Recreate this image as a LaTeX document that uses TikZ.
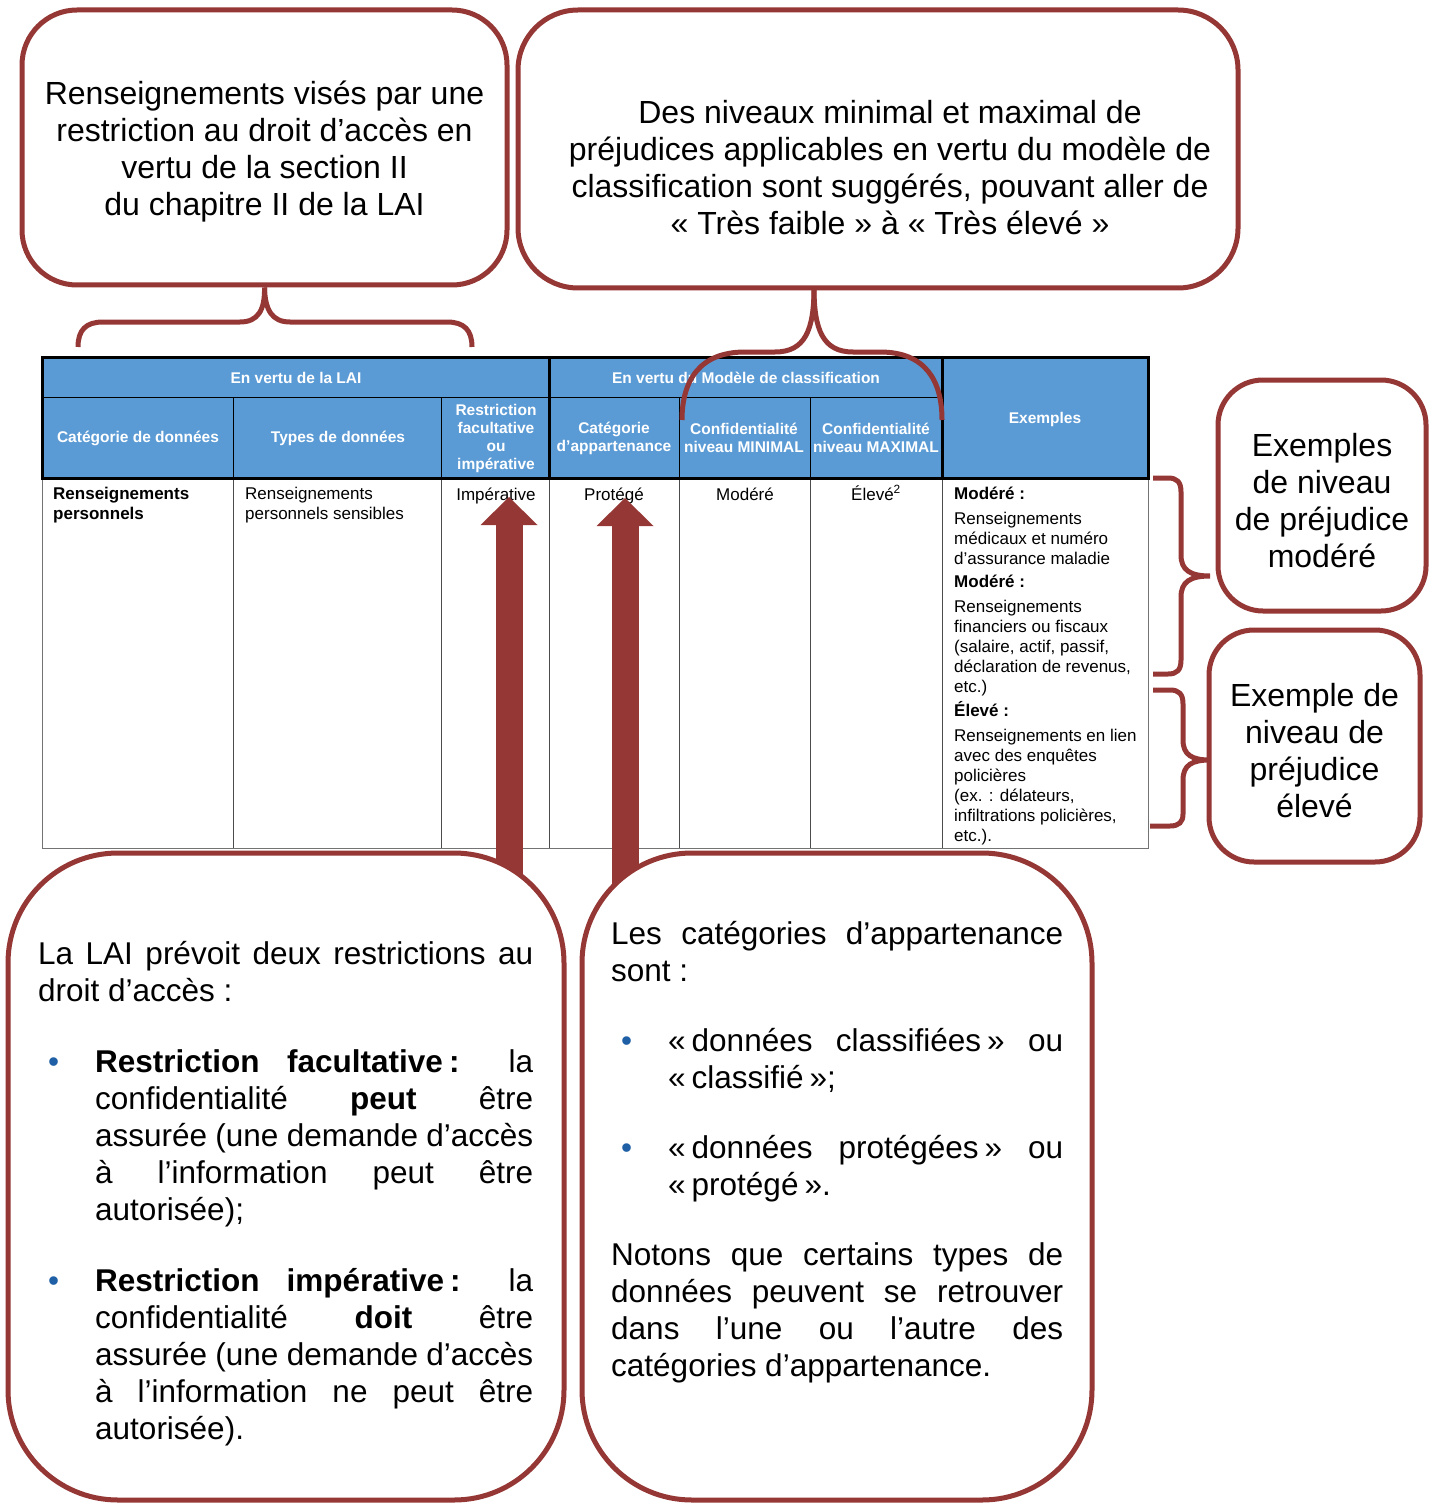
\documentclass[tikz,border=0pt]{standalone}
\usepackage{fontspec}
\setmainfont{Liberation Sans}
\usetikzlibrary{arrows.meta}

\definecolor{boxred}{RGB}{149,55,53}
\definecolor{hdrblue}{RGB}{91,155,213}
\definecolor{bulletblue}{RGB}{31,95,165}

\tikzset{
  callout/.style={draw=boxred, line width=5pt, fill=white, rounded corners=#1, inner sep=0pt},
  big/.style={font=\fontsize{32}{37}\selectfont, align=center},
  para/.style={font=\fontsize{31.5}{37}\selectfont, align=justify, inner sep=0pt, anchor=north west},
  hdr/.style={font=\fontsize{15.5}{18}\selectfont\bfseries, text=white, align=center, inner sep=0pt},
  cell/.style={font=\fontsize{17}{20}\selectfont, align=left, inner sep=0pt},
  brace/.style={draw=boxred, line width=5pt},
  bigarrow/.style={draw=boxred, line width=27pt, -{Triangle[width=57pt,length=28pt,line width=0pt]}},
}

\newcommand{\puce}{\noindent\llap{\textcolor{bulletblue}{\textbullet}\hspace{36pt}}}
\newcommand{\og}{«\kern6pt}
\newcommand{\fg}{\kern6pt»}

\begin{document}
\begin{tikzpicture}[x=1pt, y=-1pt]
  \useasboundingbox (0,0) rectangle (1431,1503);

  % table: header
  \fill[hdrblue] (42,357) rectangle (1148,478);
  \draw[line width=1pt] (42,397) -- (942,397);
  \foreach \x in {233,441,679,810}
    \draw[line width=1pt] (\x,397) -- (\x,478);
  % table: body
  \draw[line width=1pt, black!55] (42,478) -- (42,848) -- (1148,848) -- (1148,478);
  \foreach \x in {233,441,549,679,810,942}
    \draw[line width=1pt, black!70] (\x,478) -- (\x,848);
  \draw[line width=3pt] (42,357) rectangle (549,478);
  \draw[line width=3pt] (549,357) rectangle (942,478);
  \draw[line width=3pt] (942,357) rectangle (1148,478);

  \node[hdr] (hLAI) at (296,378) {En vertu de la LAI};
  \node[hdr] (hMod) at (746,378) {En vertu du Modèle de classification};
  \node[hdr] (hEx) at (1045,419) {Exemples};
  \node[hdr] (hCat) at (138,438) {Catégorie de données};
  \node[hdr] (hType) at (338,438) {Types de données};
  \node[hdr] (hRestr) at (496,438) {Restriction\\facultative\\ou\\impérative};
  \node[hdr] (hApp) at (614,438) {Catégorie\\d’appartenance};
  \node[hdr] (hMin) at (744,438) {Confidentialité\\niveau MINIMAL};
  \node[hdr] (hMax) at (876,438) {Confidentialité\\niveau MAXIMAL};

  \node[cell, anchor=north west, font=\fontsize{17}{20}\selectfont\bfseries] (cCat) at (53,487) {Renseignements\\personnels};
  \node[cell, anchor=north west] (cType) at (245,487) {Renseignements\\personnels sensibles};
  \node[cell, anchor=base] (cImp) at (496,500) {Impérative};
  \node[cell, anchor=base] (cProt) at (614,500) {Protégé};
  \node[cell, anchor=base] (cMin) at (745,500) {Modéré};
  \node[cell, anchor=base] (cMax) at (876,500) {Élevé\textsuperscript{2}};
  \node[cell, anchor=north west] (cEx) at (954,487) {%
    \textbf{Modéré :}\\[5pt]
    Renseignements\\médicaux et numéro\\d’assurance maladie\\[3pt]
    \textbf{Modéré :}\\[5pt]
    Renseignements\\financiers ou fiscaux\\(salaire, actif, passif,\\déclaration de revenus,\\etc.)\\[4pt]
    \textbf{Élevé :}\\[5pt]
    Renseignements en lien\\avec des enquêtes\\policières\\(ex. : délateurs,\\infiltrations policières,\\etc.).};

  % block arrows
  \coordinate (impFoot) at (509,900);
  \coordinate (impTip) at (509,497);
  \coordinate (protFoot) at (625,900);
  \coordinate (protTip) at (625,498);
  \draw[bigarrow] (impFoot) -- (impTip);
  \draw[bigarrow] (protFoot) -- (protTip);

  % boxes
  \node[callout=55pt, minimum width=485pt, minimum height=275pt] (LAI) at (264.5,147.5) {};
  \node[big] (LAITxt) at ([yshift=-4pt]LAI.center)
    {Renseignements visés par une\\restriction au droit d’accès en\\vertu de la section II\\du chapitre II de la LAI};
  \node[callout=60pt, minimum width=720pt, minimum height=278pt] (Mod) at (878,149) {};
  \node[big] (ModTxt) at (890,168)
    {Des niveaux minimal et maximal de\\préjudices applicables en vertu du modèle de\\classification sont suggérés, pouvant aller de\\«~Très faible~» à «~Très élevé~»};
  \node[callout=45pt, minimum width=208pt, minimum height=231pt] (ExMod) at (1322,495.5) {};
  \node[big] (ExModTxt) at ([yshift=-5pt]ExMod.center) {Exemples\\de niveau\\de préjudice\\modéré};
  \node[callout=45pt, minimum width=211pt, minimum height=232pt] (ExElev) at (1314.5,746) {};
  \node[big] (ExElevTxt) at ([yshift=-5pt]ExElev.center) {Exemple de\\niveau de\\préjudice\\élevé};
  \node[callout=110pt, minimum width=556pt, minimum height=647pt] (Restr) at (286,1176.5) {};
  \node[callout=110pt, minimum width=510pt, minimum height=647pt] (Appart) at (837,1176.5) {};

  \node[para, text width=495pt] (RestrTxt) at (38,941) {%
    La LAI prévoit deux restrictions au\linebreak droit d’accès~:\par
    \vspace{34pt}
    {\leftskip=57pt\puce\textbf{Restriction facultative\kern6pt:} la\linebreak confidentialité \textbf{peut} être\linebreak assurée (une demande d’accès\linebreak à l’information peut être\linebreak autorisée);\par}
    \vspace{34pt}
    {\leftskip=57pt\puce\textbf{Restriction impérative\kern6pt:} la\linebreak confidentialité \textbf{doit} être\linebreak assurée (une demande d’accès\linebreak à l’information ne peut être\linebreak autorisée).\par}};

  \node[para, text width=452pt] (AppartTxt) at (611,921) {%
    Les catégories d’appartenance\linebreak sont~:\par
    \vspace{33pt}
    {\leftskip=57pt\puce\og données classifiées\fg{} ou\linebreak \og classifié\fg;\par}
    \vspace{33pt}
    {\leftskip=57pt\puce\og données protégées\fg{} ou\linebreak \og protégé\fg.\par}
    \vspace{33pt}
    Notons que certains types de\linebreak données peuvent se retrouver\linebreak dans l’une ou l’autre des\linebreak catégories d’appartenance.\par};

  % braces
  \coordinate (ModTip) at (814,288);
  \coordinate (ExModTip) at (1210,576);
  \coordinate (ExElevTip) at (1210,760);
  \draw[brace] (78,347) .. controls (78,330) and (86,322) .. (103,322) -- (240,322)
    .. controls (258,322) and (265,310) .. (LAI.south);
  \draw[brace] (LAI.south) .. controls (265,310) and (272,322) .. (290,322) -- (447,322)
    .. controls (464,322) and (472,330) .. (472,347);
  \draw[brace] (682,420) .. controls (682,380) and (700,352) .. (745,352) -- (775,352)
    .. controls (805,352) and (814,330) .. (ModTip);
  \draw[brace] (ModTip) .. controls (814,330) and (823,352) .. (853,352) -- (880,352)
    .. controls (925,352) and (942,380) .. (942,420);
  \draw[brace] (1153,478) -- (1168,478) .. controls (1177,478) and (1181,482) .. (1181,492) -- (1181,555)
    .. controls (1181,570) and (1190,576) .. (ExModTip) .. controls (1190,576) and (1181,582) .. (1181,597) -- (1181,660)
    .. controls (1181,670) and (1177,674) .. (1168,674) -- (1153,674);
  \draw[brace] (1153,690) -- (1170,690) .. controls (1179,690) and (1183,694) .. (1183,704) -- (1183,740)
    .. controls (1183,755) and (1192,760) .. (ExElevTip) .. controls (1192,760) and (1183,765) .. (1183,780) -- (1183,814)
    .. controls (1183,822) and (1179,826) .. (1170,826) -- (1150,826);
\end{tikzpicture}
\end{document}
